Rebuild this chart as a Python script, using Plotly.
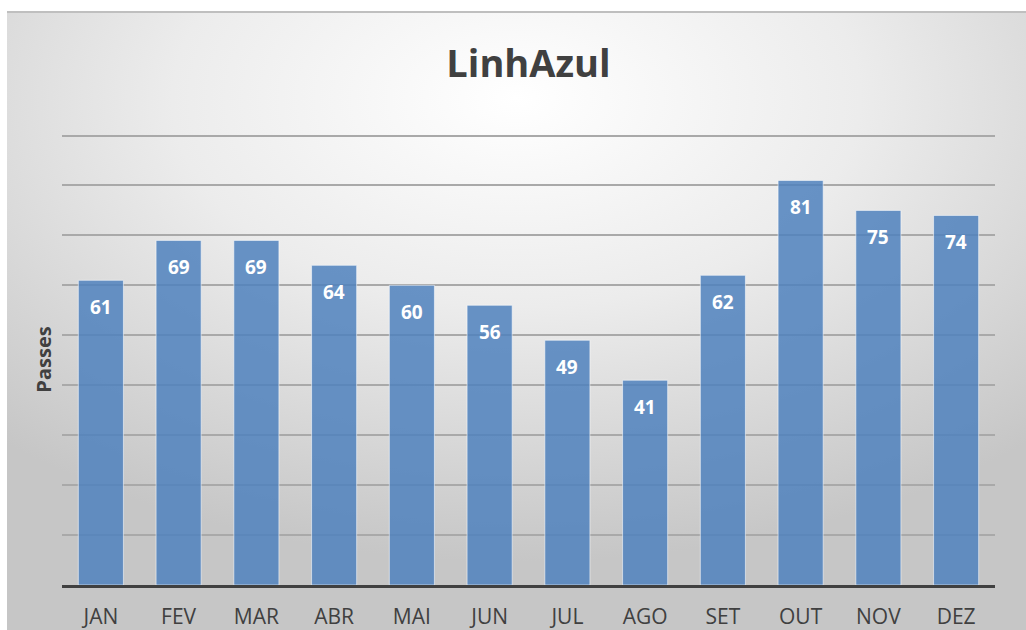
import base64
import plotly.graph_objects as go

months = ["JAN", "FEV", "MAR", "ABR", "MAI", "JUN", "JUL", "AGO", "SET", "OUT", "NOV", "DEZ"]
passes = [61, 69, 69, 64, 60, 56, 49, 41, 62, 81, 75, 74]
title_text = "LinhAzul"
y_title = "Passes"

W, H = 1026, 630
ML, MR, MT, MB = 62, 31, 134, 45
PW, PH = W - ML - MR, H - MT - MB
left_off, top_off = 7, 12

svg = f'''<svg xmlns="http://www.w3.org/2000/svg" width="{W-left_off}" height="{H-top_off}" viewBox="0 0 {W-left_off} {H-top_off}" preserveAspectRatio="none">
<defs><radialGradient id="g" cx="50%" cy="14%" r="75%" fx="50%" fy="14%">
<stop offset="0" stop-color="#ffffff"/>
<stop offset="0.45" stop-color="#ececec"/>
<stop offset="1" stop-color="#c6c6c6"/>
</radialGradient></defs>
<rect x="0" y="0" width="{W-left_off}" height="{H-top_off}" fill="url(#g)"/>
</svg>'''
src = "data:image/svg+xml;base64," + base64.b64encode(svg.encode()).decode()

fig = go.Figure()
fig.add_trace(go.Bar(
    x=months, y=passes,
    marker=dict(color="rgba(79,129,189,0.85)", line=dict(color="rgba(255,255,255,0.55)", width=1)),
    hoverinfo="x+y",
))

for m, v in zip(months, passes):
    fig.add_annotation(x=m, y=v, text=f"<b>{v}</b>", showarrow=False, yshift=-27,
                       yanchor="middle", font=dict(family="Open Sans", size=19, color="white"))

fig.add_layout_image(dict(source=src, xref="paper", yref="paper",
                          x=-(ML - left_off) / PW, y=1 + (MT - top_off) / PH,
                          sizex=(W - left_off) / PW, sizey=(H - top_off) / PH,
                          xanchor="left", yanchor="top", sizing="stretch", layer="below"))

fig.update_layout(
    width=W, height=H,
    margin=dict(l=ML, r=MR, t=MT, b=MB, autoexpand=False),
    paper_bgcolor="white",
    plot_bgcolor="rgba(0,0,0,0)",
    title=dict(text=f"<b>{title_text}</b>", x=0.5, xanchor="center", xref="paper",
               y=1 - 64/H, yanchor="middle",
               font=dict(family="Open Sans", size=38, color="#404040")),
    bargap=0.42,
    showlegend=False,
    xaxis=dict(showline=True, linecolor="#404040", linewidth=3, ticks="outside", ticklen=11,
               tickcolor="rgba(0,0,0,0)", tickfont=dict(family="Open Sans", size=21, color="#404040"),
               showgrid=False, fixedrange=True, automargin=False),
    yaxis=dict(range=[0, 90.3], tickvals=[10, 20, 30, 40, 50, 60, 70, 80, 90],
               showgrid=True, gridcolor="#a9a9a9", gridwidth=1.5,
               showticklabels=False, zeroline=False, ticks="", automargin=False,
               title=dict(text=f"<b>{y_title}</b>", standoff=4,
                          font=dict(family="Open Sans", size=20, color="#404040")),
               fixedrange=True),
    shapes=[dict(type="line", xref="paper", yref="paper",
                 x0=-(ML - left_off) / PW, x1=1 + MR / PW,
                 y0=1 + (MT - top_off) / PH, y1=1 + (MT - top_off) / PH,
                 line=dict(color="#bfbfbf", width=2))],
)

fig.write_html("out.html", config={"displayModeBar": False},
               post_script="document.body.style.margin='0';document.body.style.overflow='hidden';")
